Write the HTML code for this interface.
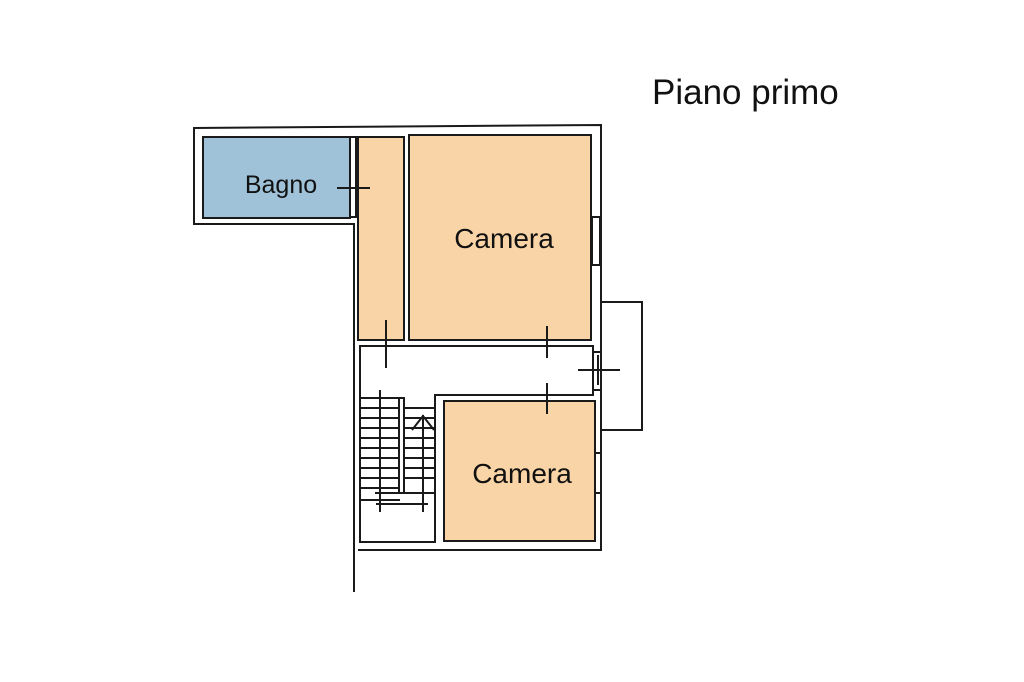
<!DOCTYPE html>
<html><head><style>body{margin:0;background:#fff}svg{display:block}text{font-family:"Liberation Sans",sans-serif;fill:#111}</style></head>
<body>
<svg width="1024" height="682" viewBox="0 0 1024 682" xmlns="http://www.w3.org/2000/svg">
<rect width="1024" height="682" fill="#fff"/>
<g fill="none" stroke="#1a1a1a" stroke-width="2">
<path d="M354,592 V224 H194 V128 L601,125 V550 H358"/>
<path d="M602,302 H642 V430 H602"/>
<rect x="203" y="137" width="147" height="81" fill="#9fc2d8"/>
<rect x="358" y="137" width="46" height="203" fill="#f9d4a6"/>
<rect x="409" y="135" width="182" height="205" fill="#f9d4a6"/>
<rect x="444" y="401" width="151" height="140" fill="#f9d4a6"/>
<path d="M359,346 H593 V395 H435 V542 H360 V346"/>
<rect x="592" y="217" width="8" height="48"/>
<rect x="595" y="453" width="6" height="40"/>
<rect x="593" y="352" width="8" height="38"/>
<rect x="350" y="137" width="6" height="80"/>
<path d="M360,398 H400 M360,408 H400 M360,418 H400 M360,428 H400 M360,438 H400 M360,448 H400 M360,458 H400 M360,468 H400 M360,478 H400 M360,488 H400 M360,500 H400"/>
<path d="M404,408 H436 M404,418 H436 M404,428 H436 M404,438 H436 M404,448 H436 M404,458 H436 M404,468 H436 M404,478 H436 M375,493 H436"/>
<rect x="399" y="398" width="5" height="95"/>
<path d="M380,390 V512 M423,415 V512 M376,504 H428 M412,430 L423,416 L434,430"/>
<path d="M337,188 H370 M386,320 V368 M547,326 V358 M547,383 V414 M578,370 H620 M598,355 V385"/>
</g>
<text x="652" y="104" font-size="35">Piano primo</text>
<text x="281" y="193" font-size="25" text-anchor="middle">Bagno</text>
<text x="504" y="248" font-size="28" text-anchor="middle">Camera</text>
<text x="522" y="483" font-size="28" text-anchor="middle">Camera</text>
</svg>
</body></html>
